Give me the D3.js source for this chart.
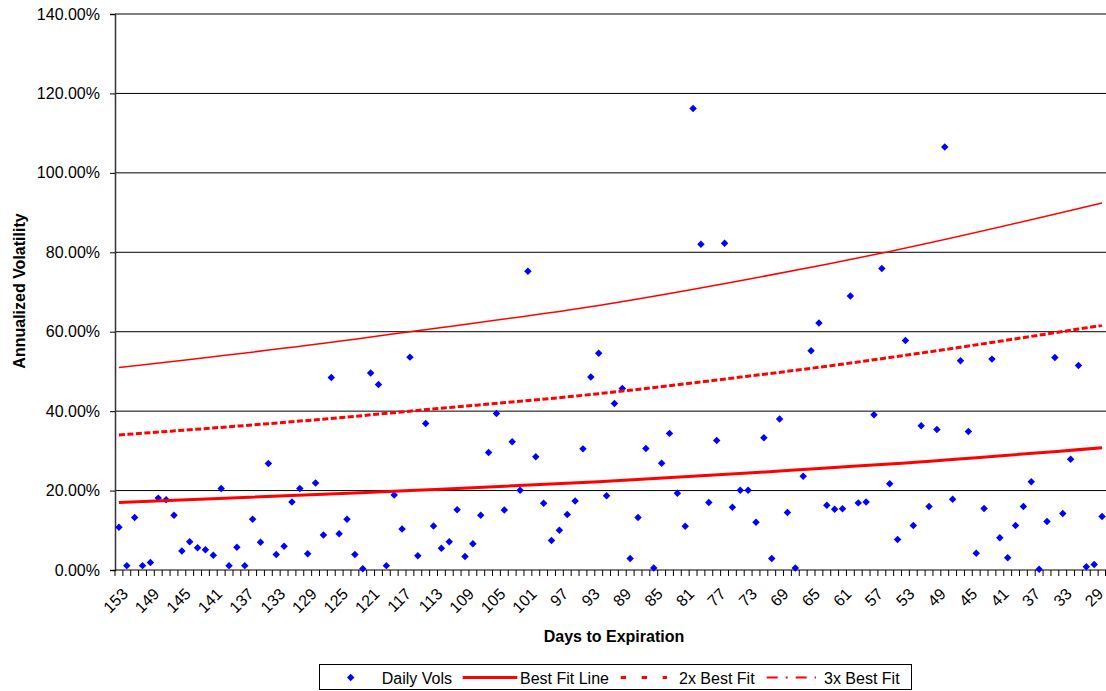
<!DOCTYPE html>
<html>
<head>
<meta charset="utf-8">
<script src="https://cdnjs.cloudflare.com/ajax/libs/d3/7.8.5/d3.min.js"></script>
<style>
    body { margin: 0; background: #fff; }
    svg { display: block; font-family: "Liberation Sans", Arial, sans-serif; }
</style>
</head>
<body>
<script>

// days to expiration, left to right (153 down to 28)
var days = d3.range(153, 27, -1);

var tickLabels = [153, 149, 145, 141, 137, 133, 129, 125, 121, 117, 113, 109, 105, 101,
    97, 93, 89, 85, 81, 77, 73, 69, 65, 61, 57, 53, 49, 45, 41, 37, 33, 29];

var yTicks = [0, 20, 40, 60, 80, 100, 120, 140];

// annualized daily vols in %, one per day above
var dailyVols = [
    10.75, 1.1, 13.2, 1.1, 1.9, 18.1, 17.7, 13.8, 4.8, 7.1,
    5.6, 5.1, 3.7, 20.5, 1.1, 5.7, 1.1, 12.8, 7.0, 26.8,
    3.9, 6.0, 17.1, 20.5, 4.1, 21.9, 8.8, 48.5, 9.1, 12.8,
    3.9, 0.3, 49.6, 46.7, 1.1, 18.9, 10.3, 53.6, 3.6, 36.9,
    11.1, 5.5, 7.1, 15.2, 3.4, 6.6, 13.8, 29.6, 39.4, 15.1,
    32.3, 20.1, 75.2, 28.5, 16.8, 7.4, 10.0, 14.0, 17.4, 30.5,
    48.6, 54.6, 18.7, 41.9, 45.7, 2.9, 13.2, 30.6, 0.5, 26.9,
    34.4, 19.3, 11.0, 116.2, 82.0, 17.0, 32.6, 82.3, 15.8, 20.1,
    20.1, 12.0, 33.3, 2.9, 38.0, 14.5, 0.5, 23.6, 55.2, 62.2,
    16.3, 15.3, 15.4, 69.0, 16.9, 17.1, 39.1, 75.9, 21.7, 7.7,
    57.8, 11.2, 36.3, 16.0, 35.4, 106.5, 17.8, 52.7, 34.9, 4.2,
    15.5, 53.1, 8.1, 3.1, 11.2, 16.0, 22.2, 0.2, 12.2, 53.5,
    14.2, 27.9, 51.5, 0.8, 1.4, 13.5
];

// fit curves at a few days
var fitDays = [153, 123, 116, 92, 73, 63, 55, 28];
var bestFit = [17.0, 19.4, 20.0, 22.2, 24.4, 25.7, 26.7, 30.8];
var bestFit2x = [34.0, 38.7, 40.0, 44.4, 48.8, 51.3, 53.5, 61.6];
var bestFit3x = [51.0, 58.1, 60.0, 66.6, 73.2, 77.0, 80.2, 92.4];

function drawChart() {

    var width = 1106,
        height = 691;

    var plotLeft = 115, plotRight = 1106, plotTop = 14, plotBottom = 570;

    var svg = d3.select("body")
        .append("svg")
        .attr("width", width)
        .attr("height", height);

    svg.append("rect")
        .attr("width", width)
        .attr("height", height)
        .attr("fill", "#fff");

    var x = d3.scaleBand()
        .domain(days)
        .range([plotLeft, plotRight])
        .padding(0);

    var y = d3.scaleLinear()
        .domain([0, 140])
        .range([plotBottom, plotTop]);

    function cx(d) {
        return x(d) + x.bandwidth() / 2;
    }

    // gridlines
    svg.append("g")
        .selectAll("line")
        .data(yTicks.slice(1))
        .enter().append("line")
        .attr("x1", plotLeft)
        .attr("x2", plotRight)
        .attr("y1", function(d) { return y(d); })
        .attr("y2", function(d) { return y(d); })
        .attr("stroke", "#000")
        .attr("stroke-width", 1);

    // y axis
    var yAxis = svg.append("g")
        .attr("transform", "translate(" + plotLeft + ",0)")
        .call(d3.axisLeft(y)
            .tickValues(yTicks)
            .tickSize(5)
            .tickPadding(10)
            .tickFormat(function(d) { return d.toFixed(2) + "%"; }));

    yAxis.select(".domain").attr("stroke", "#333").attr("stroke-width", 1.5);
    yAxis.selectAll(".tick line").attr("stroke", "#000");
    yAxis.selectAll("text")
        .attr("font-size", 16)
        .attr("font-family", "Liberation Sans, Arial, sans-serif")
        .attr("fill", "#000");

    // x axis: labels every 4 days, ticks between every category
    var xAxis = svg.append("g")
        .attr("transform", "translate(0," + plotBottom + ")")
        .call(d3.axisBottom(x)
            .tickValues(tickLabels)
            .tickSize(0));

    xAxis.select(".domain").remove();
    xAxis.selectAll("text")
        .attr("x", 0)
        .attr("y", 0)
        .attr("dy", null)
        .attr("transform", "translate(10,25) rotate(-45)")
        .style("text-anchor", "end")
        .attr("font-size", 16)
        .attr("font-family", "Liberation Sans, Arial, sans-serif")
        .attr("fill", "#000");

    svg.append("line")
        .attr("x1", plotLeft)
        .attr("x2", plotRight)
        .attr("y1", plotBottom)
        .attr("y2", plotBottom)
        .attr("stroke", "#000");

    svg.append("g")
        .selectAll("line")
        .data(days.concat(["end"]))
        .enter().append("line")
        .attr("x1", function(d) { return d === "end" ? plotRight - 0.5 : x(d); })
        .attr("x2", function(d) { return d === "end" ? plotRight - 0.5 : x(d); })
        .attr("y1", plotBottom)
        .attr("y2", plotBottom + 6)
        .attr("stroke", "#000");

    // daily vols
    svg.append("g")
        .selectAll("path")
        .data(dailyVols)
        .enter().append("path")
        .attr("d", d3.symbol(d3.symbolSquare, 28))
        .attr("transform", function(d, i) {
            return "translate(" + cx(days[i]) + "," + y(d) + ") rotate(45)";
        })
        .attr("fill", "#0000ff");

    // fit lines
    var fitLine = d3.line()
        .x(function(d, i) { return cx(fitDays[i]); })
        .y(function(d) { return y(d); })
        .curve(d3.curveMonotoneX);

    svg.append("path")
        .attr("d", fitLine(bestFit))
        .attr("fill", "none")
        .attr("stroke", "#ff0000")
        .attr("stroke-width", 3);

    svg.append("path")
        .attr("d", fitLine(bestFit2x))
        .attr("fill", "none")
        .attr("stroke", "#ff0000")
        .attr("stroke-width", 3)
        .attr("stroke-dasharray", "6,2.5");

    svg.append("path")
        .attr("d", fitLine(bestFit3x))
        .attr("fill", "none")
        .attr("stroke", "#ff0000")
        .attr("stroke-width", 1.5);

    // axis titles
    svg.append("text")
        .attr("x", 614)
        .attr("y", 642)
        .attr("text-anchor", "middle")
        .attr("font-size", 16)
        .attr("font-weight", "bold")
        .text("Days to Expiration");

    svg.append("text")
        .attr("transform", "translate(25,291) rotate(-90)")
        .attr("text-anchor", "middle")
        .attr("font-size", 16)
        .attr("font-weight", "bold")
        .text("Annualized Volatility");

    // legend
    var legend = svg.append("g");

    legend.append("rect")
        .attr("x", 319.5)
        .attr("y", 664.5)
        .attr("width", 592)
        .attr("height", 25)
        .attr("fill", "#fff")
        .attr("stroke", "#000");

    legend.append("path")
        .attr("d", d3.symbol(d3.symbolSquare, 28))
        .attr("transform", "translate(350.7,677.5) rotate(45)")
        .attr("fill", "#0000ff");

    legend.append("line")
        .attr("x1", 462.7).attr("x2", 517.3)
        .attr("y1", 677.5).attr("y2", 677.5)
        .attr("stroke", "#ff0000")
        .attr("stroke-width", 3);

    legend.append("line")
        .attr("x1", 620.7).attr("x2", 667)
        .attr("y1", 677.5).attr("y2", 677.5)
        .attr("stroke", "#ff0000")
        .attr("stroke-width", 3)
        .attr("stroke-dasharray", "5.3,15.7");

    legend.append("line")
        .attr("x1", 766.7).attr("x2", 816)
        .attr("y1", 677.5).attr("y2", 677.5)
        .attr("stroke", "#ff0000")
        .attr("stroke-width", 2)
        .attr("stroke-dasharray", "11,8,2,8");

    var legendText = [["Daily Vols", 381.7], ["Best Fit Line", 520], ["2x Best Fit", 679], ["3x Best Fit", 824]];

    legend.selectAll("text")
        .data(legendText)
        .enter().append("text")
        .attr("x", function(d) { return d[1]; })
        .attr("y", 684)
        .attr("font-size", 16)
        .text(function(d) { return d[0]; });
}

drawChart();

</script>
</body>
</html>
